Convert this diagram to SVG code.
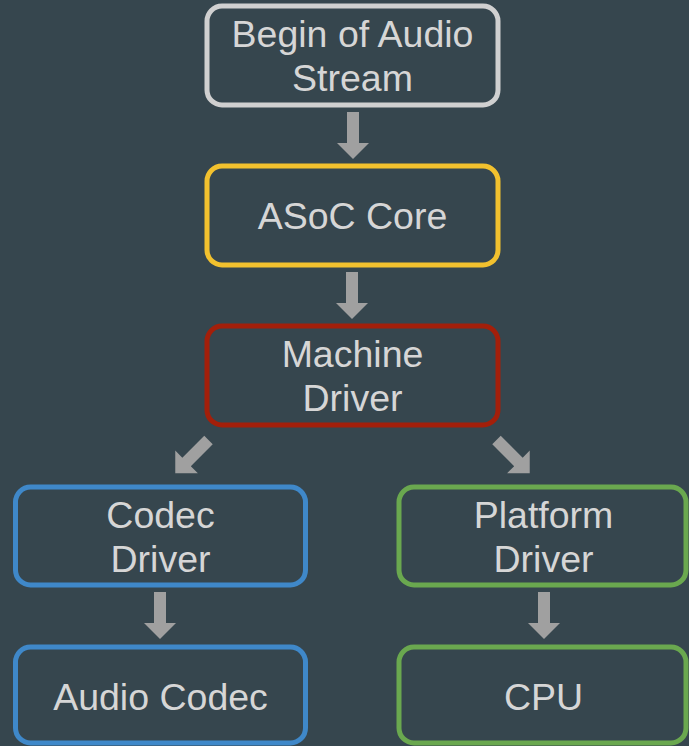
<svg xmlns="http://www.w3.org/2000/svg" width="689" height="746" viewBox="0 0 689 746">
<defs>
<style>
.box{fill:#36464e;stroke-width:5}
.t{font-family:"Liberation Sans",Arial,sans-serif;font-size:37.5px;fill:#d6d6d6;text-anchor:middle}
.arr{fill:#a0a0a0}
</style>
<polygon id="arrow" points="-6,0 6,0 6,31 16,31 0,47 -16,31 -6,31"/>
</defs>
<rect width="689" height="746" fill="#36464e"/>
<g id="connectors" class="arr">
<use href="#arrow" transform="translate(353,112)"/>
<use href="#arrow" transform="translate(352,272)"/>
<use href="#arrow" transform="translate(208.5,440) rotate(45)"/>
<use href="#arrow" transform="translate(496.5,440) rotate(-45)"/>
<use href="#arrow" transform="translate(160,592)"/>
<use href="#arrow" transform="translate(544,592)"/>
</g>
<g id="begin">
<rect class="box" x="207" y="6" width="291" height="99" rx="15" stroke="#d0d0d0"/>
<text class="t" x="352.5" y="47">Begin of Audio</text>
<text class="t" x="352.5" y="91">Stream</text>
</g>
<g id="asoc">
<rect class="box" x="207" y="166" width="291" height="99" rx="15" stroke="#f2c12e"/>
<text class="t" x="352.5" y="229">ASoC Core</text>
</g>
<g id="machine">
<rect class="box" x="207" y="326" width="291" height="99" rx="15" stroke="#a31f0a"/>
<text class="t" x="352.5" y="367">Machine</text>
<text class="t" x="352.5" y="411">Driver</text>
</g>
<g id="codecdriver">
<rect class="box" x="15.5" y="487" width="290" height="98" rx="15" stroke="#3f88c9"/>
<text class="t" x="160.5" y="528">Codec</text>
<text class="t" x="160.5" y="572">Driver</text>
</g>
<g id="audiocodec">
<rect class="box" x="15.5" y="647" width="290" height="96" rx="15" stroke="#3f88c9"/>
<text class="t" x="160.5" y="710">Audio Codec</text>
</g>
<g id="platform">
<rect class="box" x="399" y="487" width="287" height="98" rx="15" stroke="#6aa84f"/>
<text class="t" x="543.5" y="528">Platform</text>
<text class="t" x="543.5" y="572">Driver</text>
</g>
<g id="cpu">
<rect class="box" x="399" y="647" width="287" height="96" rx="15" stroke="#6aa84f"/>
<text class="t" x="543.5" y="710">CPU</text>
</g>
</svg>
